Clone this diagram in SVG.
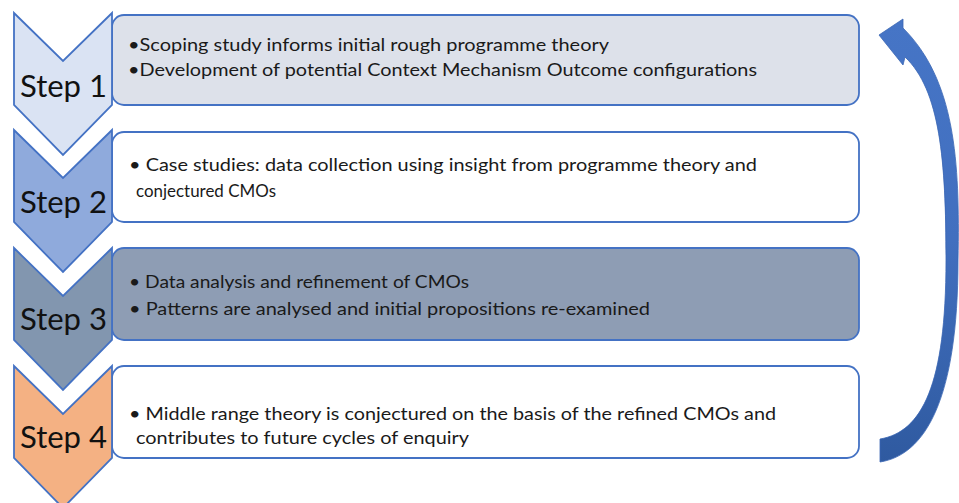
<svg xmlns="http://www.w3.org/2000/svg" width="959" height="503" viewBox="0 0 959 503">
<defs>
<style>
.box{stroke:#4472c4;stroke-width:1.8}
.chev{stroke:#4472c4;stroke-width:1.8;stroke-linejoin:miter}
.step{font-family:Lato,"Liberation Sans",Arial,sans-serif;font-size:30px;fill:#111}
.txt{font-family:Lato,"Liberation Sans",Arial,sans-serif;font-size:17.5px;fill:#1a1a1a}
</style>
<linearGradient id="arrowGrad" x1="0" y1="0" x2="0" y2="1">
<stop offset="0" stop-color="#4675c6"/>
<stop offset="0.5" stop-color="#416fbf"/>
<stop offset="1" stop-color="#2f5aa0"/>
</linearGradient>
</defs>
<rect width="959" height="503" fill="#ffffff"/>

<g id="step1">
<rect class="box" x="112" y="15" width="747" height="90" rx="12" fill="#dde1ea"/>
<path class="chev" d="M14,13 L63,61 L112,13 L112,105 L63,155 L14,105 Z" fill="#dae3f3"/>
<text class="step" x="20" y="97" textLength="87" lengthAdjust="spacingAndGlyphs">Step 1</text>
<text class="txt" x="128" y="51" textLength="481" lengthAdjust="spacingAndGlyphs">•Scoping study informs initial rough programme theory</text>
<text class="txt" x="128" y="76" textLength="629" lengthAdjust="spacingAndGlyphs">•Development of potential Context Mechanism Outcome configurations</text>
</g>

<g id="step2">
<rect class="box" x="112" y="132" width="747" height="90" rx="12" fill="#ffffff"/>
<path class="chev" d="M14,130 L63,178 L112,130 L112,222 L63,272 L14,222 Z" fill="#8faadc"/>
<text class="step" x="20" y="213" textLength="87" lengthAdjust="spacingAndGlyphs">Step 2</text>
<text class="txt" x="129" y="171" textLength="628" lengthAdjust="spacingAndGlyphs">• Case studies: data collection using insight from programme theory and</text>
<text class="txt" x="136" y="197" textLength="140" lengthAdjust="spacingAndGlyphs">conjectured CMOs</text>
</g>

<g id="step3">
<rect class="box" x="112" y="248" width="747" height="92" rx="12" fill="#8e9db4"/>
<path class="chev" d="M14,248 L63,296 L112,248 L112,340 L63,390 L14,340 Z" fill="#8296af"/>
<text class="step" x="20" y="330" textLength="87" lengthAdjust="spacingAndGlyphs">Step 3</text>
<text class="txt" x="129" y="288" textLength="340" lengthAdjust="spacingAndGlyphs">• Data analysis and refinement of CMOs</text>
<text class="txt" x="129" y="315" textLength="521" lengthAdjust="spacingAndGlyphs">• Patterns are analysed and initial propositions re-examined</text>
</g>

<g id="step4">
<rect class="box" x="112" y="366" width="747" height="92" rx="12" fill="#ffffff"/>
<path class="chev" d="M14,366 L63,414 L112,366 L112,458 L63,508 L14,458 Z" fill="#f4b183"/>
<text class="step" x="20" y="448" textLength="87" lengthAdjust="spacingAndGlyphs">Step 4</text>
<text class="txt" x="129" y="420" textLength="647" lengthAdjust="spacingAndGlyphs">• Middle range theory is conjectured on the basis of the refined CMOs and</text>
<text class="txt" x="136" y="444" textLength="333" lengthAdjust="spacingAndGlyphs">contributes to future cycles of enquiry</text>
</g>

<g id="connectors">
<path id="cycle-arrow" d="M880,462 C925,455 958,400 958,260 C960,160 955,80 903,28 L903,19 L879,35 L903,65 L905,57 C940,90 946,160 946,260 C946,385 922,432 880,439 Z" fill="url(#arrowGrad)" stroke="#3a66b4" stroke-width="0.8"/>
</g>
</svg>
